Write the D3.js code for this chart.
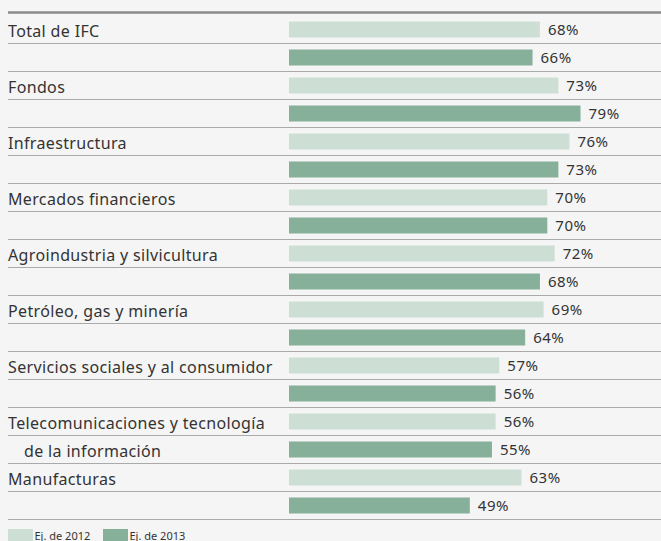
<!DOCTYPE html>
<html><head><meta charset="utf-8">
<script src="https://cdn.jsdelivr.net/npm/d3@7"></script>
<style>
html,body{margin:0;padding:0;background:#f5f5f5;}
svg{display:block;}
text{font-family:"Noto Sans",sans-serif;fill:#333;}
</style></head>
<body>
<script>
const categories = ["Total de IFC","Fondos","Infraestructura","Mercados financieros","Agroindustria y silvicultura","Petróleo, gas y minería","Servicios sociales y al consumidor","Telecomunicaciones y tecnología|de la información","Manufacturas"];
const years = ["Ej. de 2012","Ej. de 2013"];
const values2012 = [68,73,76,70,72,69,57,56,63];
const values2013 = [66,79,73,70,68,64,56,55,49];
const colors = ["#cddfd4","#87b09b"];

const W = 661, H = 541;
const svg = d3.select("body").append("svg").attr("width",W).attr("height",H);

const x = d3.scaleLinear().domain([0,100]).range([289,658]);
const y = d3.scaleBand().domain(categories).range([15.5,519.5]);
const ySub = d3.scaleBand().domain(years).range([0,y.bandwidth()]).paddingInner(12/28).paddingOuter(6/28);

svg.append("line").attr("x1",8).attr("x2",W).attr("y1",12.5).attr("y2",12.5)
  .attr("stroke","#8a8a8a").attr("stroke-width",2.5);

const data = [];
categories.forEach((c,i)=>{
  data.push({c, yr:years[0], v:values2012[i], k:0});
  data.push({c, yr:years[1], v:values2013[i], k:1});
});

const rowStep = ySub.step();
data.forEach(d=>{
  const yl = y(d.c)+(d.k+1)*rowStep;
  svg.append("line").attr("x1",8).attr("x2",W).attr("y1",yl).attr("y2",yl)
    .attr("stroke","#aaaaaa").attr("stroke-width",1);
});

svg.selectAll("rect.bar").data(data).enter().append("rect").attr("class","bar")
  .attr("x",x(0)).attr("y",d=>y(d.c)+ySub(d.yr))
  .attr("width",d=>x(d.v)-x(0)).attr("height",ySub.bandwidth())
  .attr("fill",d=>colors[d.k]);

svg.selectAll("text.val").data(data).enter().append("text").attr("class","val")
  .attr("x",d=>x(d.v)+8).attr("y",d=>y(d.c)+ySub(d.yr)+ySub.bandwidth()/2)
  .attr("dy","0.36em").attr("font-size",15).attr("letter-spacing",0.5).text(d=>d.v+"%");

categories.forEach(c=>{
  const parts = c.split("|");
  parts.forEach((p,j)=>{
    svg.append("text").attr("x", j===0?8:24)
      .attr("y", y(c)+ySub(years[j])+ySub.bandwidth()-0.5)
      .attr("font-size",16).attr("letter-spacing",0.35).text(p);
  });
});

const lg = svg.append("g");
const lx = [8,103];
years.forEach((yr,i)=>{
  lg.append("rect").attr("x",lx[i]).attr("y",529).attr("width",25).attr("height",12).attr("fill",colors[i]);
  lg.append("text").attr("x",lx[i]+26.5).attr("y",539.5).attr("font-size",11).text(yr);
});
</script>
</body></html>
